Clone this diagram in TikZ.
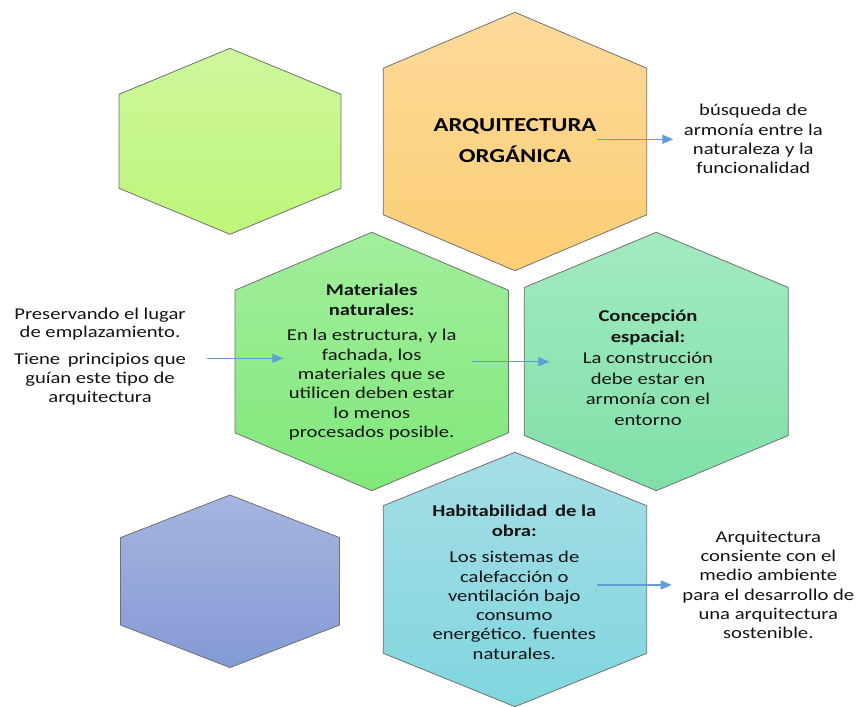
\documentclass[tikz,border=0pt]{standalone}
\usepackage{fontspec}
\setmainfont[FakeStretch=1.25]{Carlito}
\usetikzlibrary{arrows.meta}
\definecolor{hexgray}{RGB}{112,112,112}
\definecolor{arrowblue}{RGB}{96,156,214}
\definecolor{textdark}{RGB}{20,20,20}
\definecolor{limeT}{RGB}{206,247,156}
\definecolor{limeB}{RGB}{190,246,122}
\definecolor{orangeT}{RGB}{253,218,154}
\definecolor{orangeB}{RGB}{252,206,116}
\definecolor{greenT}{RGB}{162,238,156}
\definecolor{greenB}{RGB}{128,232,122}
\definecolor{tealT}{RGB}{162,234,192}
\definecolor{tealB}{RGB}{128,224,168}
\definecolor{cyanT}{RGB}{166,221,230}
\definecolor{cyanB}{RGB}{128,214,222}
\definecolor{blueT}{RGB}{166,181,224}
\definecolor{blueB}{RGB}{132,154,212}
\newcommand\hexshape[7]{%
  \path[hexline, top color=#6, bottom color=#7]
    ({#1},{#2-#4}) -- ({#1+#3},{#2-#5}) -- ({#1+#3},{#2+#5}) --
    ({#1},{#2+#4}) -- ({#1-#3},{#2+#5}) -- ({#1-#3},{#2-#5}) -- cycle;}
\tikzset{
  hexline/.style={draw=hexgray, line width=0.8pt},
  conn/.style={draw=arrowblue, line width=1.1pt, -{Triangle[length=11pt,width=9pt]}},
  txt/.style={align=center, text=textdark, inner sep=0pt,
    font=\fontsize{16.5}{19.3}\selectfont},
  bigtitle/.style={align=center, text=black, inner sep=0pt,
    font=\fontsize{19.8}{31}\selectfont\bfseries},
}
\begin{document}
\begin{tikzpicture}[x=1pt,y=-1pt]
\useasboundingbox (0,0) rectangle (863,707);
\fill[white] (0,0) rectangle (863,707);
% hexagons
\hexshape{230}{141.3}{111}{93}{47}{limeT}{limeB}
\hexshape{515}{141.5}{131.7}{129.2}{73.3}{orangeT}{orangeB}
\hexshape{371.7}{361.5}{136.7}{129.2}{71.3}{greenT}{greenB}
\hexshape{656.3}{361.5}{132}{129.2}{74}{tealT}{tealB}
\hexshape{230}{581.3}{109.5}{86.3}{43.7}{blueT}{blueB}
\hexshape{515}{579.5}{131.7}{127.2}{73.8}{cyanT}{cyanB}
% texts
\node[bigtitle] (main) at (515,141) {ARQUITECTURA\\ORGÁNICA};
\node[txt] (busq) at (753.3,139) {búsqueda de\\armonía entre la\\naturaleza y la\\funcionalidad};
\node[txt, font=\fontsize{16.5}{19.3}\selectfont\bfseries] (matT) at (371.7,299.7) {Materiales\\naturales:};
\node[txt] (matB) at (371.7,384.7) {En la estructura, y la\\fachada, los\\materiales que se\\utilicen deben estar\\lo menos\\procesados posible.};
\node[txt, font=\fontsize{16.5}{20.9}\selectfont] (conc) at (648,367.9) {\textbf{Concepción}\\\textbf{espacial:}\\La construcción\\debe estar en\\armonía con el\\entorno};
\node[txt, font=\fontsize{16.5}{18.3}\selectfont] (pres) at (100,324.2) {Preservando el lugar\\de emplazamiento.};
\node[txt] (tiene) at (100,379.3) {Tiene\hspace{3pt} principios que\\guían este tipo de\\arquitectura};
\node[txt, font=\fontsize{16.5}{20}\selectfont\bfseries] (habT) at (514.3,520.7) {Habitabilidad\hspace{3pt} de la\\obra:};
\node[txt] (habB) at (514.3,605.3) {Los sistemas de\\calefacción o\\ventilación bajo\\consumo\\energético. fuentes\\naturales.};
\node[txt] (arq) at (768.3,585) {Arquitectura\\consiente con el\\medio ambiente\\para el desarrollo de\\una arquitectura\\sostenible.};
% connectors
\coordinate (a1s) at (597.3,139.3);
\coordinate (a1e) at (673.3,139.3);
\coordinate (a2s) at (206.7,358.3);
\coordinate (a2e) at (283.3,358.3);
\coordinate (a3s) at (472.3,361.7);
\coordinate (a3e) at (549.3,361.7);
\coordinate (a4s) at (597.3,585);
\coordinate (a4e) at (671.7,585);
\draw[conn] (a1s) -- (a1e);
\draw[conn] (a2s) -- (a2e);
\draw[conn] (a3s) -- (a3e);
\draw[conn] (a4s) -- (a4e);
\end{tikzpicture}
\end{document}
